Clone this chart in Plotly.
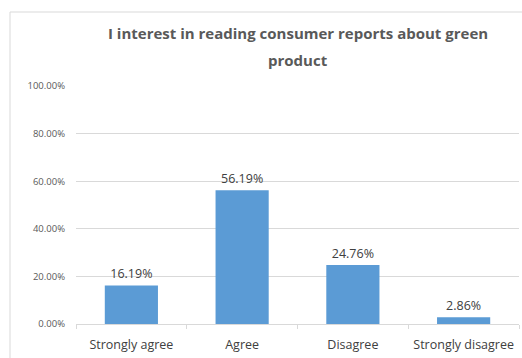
import plotly.graph_objects as go

categories = ["Strongly agree", "Agree", "Disagree", "Strongly disagree"]
percentages = [16.19, 56.19, 24.76, 2.86]
y_ticks = [0, 20, 40, 60, 80, 100]
y_tick_labels = ["0.00%", "20.00%", "40.00%", "60.00%", "80.00%", "100.00%"]
title_lines = ["I interest in reading consumer reports about green", "product"]

W, H = 522, 358
L, R, T, B = 76, 3, 86, 34
plot_w = W - L - R
plot_h = H - T - B

def px_x(x):
    return (x - L) / plot_w

def px_y(y):
    return (H - B - y) / plot_h

fig = go.Figure(
    go.Bar(
        x=categories,
        y=percentages,
        width=0.48,
        marker=dict(color="#5B9BD5", line=dict(width=0)),
        text=[f"{v:.2f}%" for v in percentages],
        textposition="outside",
        textfont=dict(family="Open Sans", size=12.5, color="#404040"),
        cliponaxis=False,
    )
)

# Title as two centred lines over the plot area
for line, ypx in zip(title_lines, [33, 60]):
    fig.add_annotation(
        text=line, xref="paper", yref="paper",
        x=0.5, y=px_y(ypx), xanchor="center", yanchor="middle",
        showarrow=False,
        font=dict(family="Open Sans", size=15, color="#595959", weight="bold"),
    )

# Light chart-area border
fig.add_shape(
    type="rect", xref="paper", yref="paper",
    x0=px_x(10), x1=px_x(530), y0=px_y(370), y1=px_y(12),
    line=dict(color="#D9D9D9", width=1), layer="below",
)

fig.update_layout(
    width=W, height=H,
    margin=dict(l=L, r=R, t=T, b=B),
    paper_bgcolor="white", plot_bgcolor="white",
    showlegend=False,
    bargap=0.52,
    xaxis=dict(
        tickson="boundaries", ticks="outside", ticklen=4, tickcolor="#D9D9D9",
        showline=True, linecolor="#D9D9D9", linewidth=1,
        showgrid=False,
        tickfont=dict(family="Open Sans", size=12.5, color="#404040"),
        ticklabelstandoff=9,
    ),
    yaxis=dict(
        range=[0, 100], tickvals=y_ticks, ticktext=y_tick_labels,
        showgrid=True, gridcolor="#D9D9D9", gridwidth=1,
        zeroline=False, showline=False, ticks="",
        tickfont=dict(family="Open Sans", size=9.5, color="#595959"),
        ticklabelstandoff=10,
    ),
)

fig.write_html("out.html")
